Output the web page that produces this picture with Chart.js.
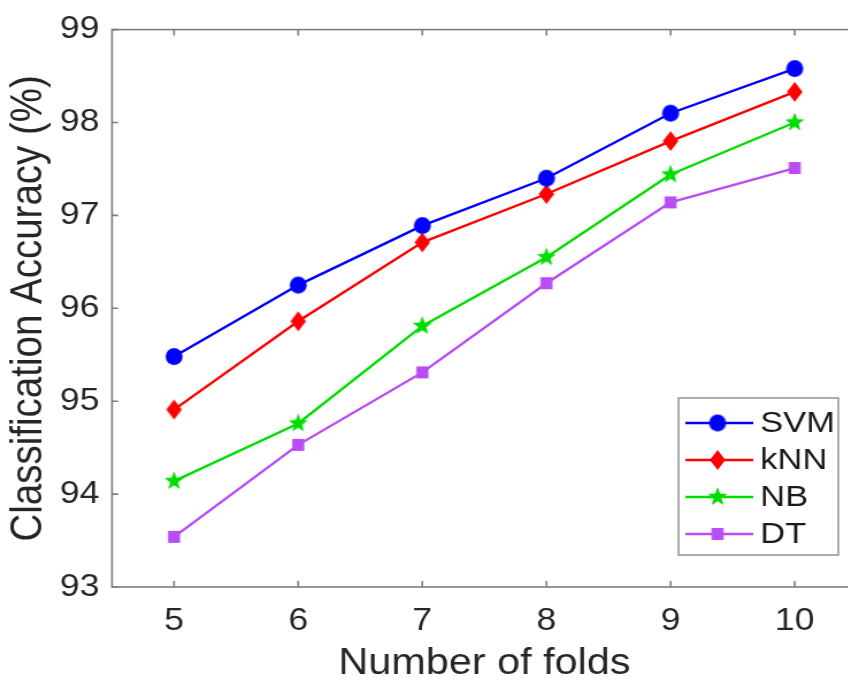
<!DOCTYPE html>
<html>
<head>
<meta charset="utf-8">
<script src="https://cdn.jsdelivr.net/npm/chart.js@4"></script>
<style>
  html, body { margin: 0; padding: 0; background: #fff; width: 848px; height: 682px; overflow: hidden; }
  #wrap { width: 760px; height: 682px; transform: scaleX(1.15); transform-origin: 0 0; }
</style>
</head>
<body>
<div id="wrap"><canvas id="myChart" width="760" height="682"></canvas></div>
<script>
const folds = [5, 6, 7, 8, 9, 10];
const yTicks = [93, 94, 95, 96, 97, 98, 99];
const svm = [95.48, 96.25, 96.89, 97.40, 98.10, 98.58];
const knn = [94.91, 95.86, 96.71, 97.23, 97.80, 98.33];
const nb  = [94.14, 94.76, 95.81, 96.55, 97.44, 98.00];
const dt  = [93.54, 94.53, 95.31, 96.27, 97.14, 97.51];

const SX = 1.15;   // page is stretched sideways like the original figure
const FONT = "'Liberation Sans', Arial, Helvetica, sans-serif";

// marker pictures, squeezed so they look round after the stretch
function marker(shape, color, r) {
  const c = document.createElement('canvas');
  const w = Math.ceil(2 * r / SX) + 2, h = Math.ceil(2 * r) + 2;
  c.width = w; c.height = h;
  const g = c.getContext('2d');
  g.translate(w / 2, h / 2);
  g.scale(1 / SX, 1);
  g.fillStyle = color;
  g.beginPath();
  if (shape === 'circle') {
    g.arc(0, 0, r, 0, Math.PI * 2);
  } else if (shape === 'diamond') {
    g.moveTo(0, -r); g.lineTo(r * 0.78, 0); g.lineTo(0, r); g.lineTo(-r * 0.78, 0);
  } else if (shape === 'star') {
    for (let i = 0; i < 10; i++) {
      const a = -Math.PI / 2 + i * Math.PI / 5;
      const rr = i % 2 ? r * 0.42 : r;
      g.lineTo(Math.cos(a) * rr, Math.sin(a) * rr);
    }
  } else {
    g.rect(-r, -r, 2 * r, 2 * r);
  }
  g.closePath();
  g.fill();
  return c;
}

function series(label, values, color, img) {
  return {
    label: label,
    data: folds.map((f, i) => ({ x: f, y: values[i] })),
    borderColor: color,
    backgroundColor: color,
    borderWidth: 2.4,
    pointStyle: img,
    pointRadius: 8,
    tension: 0
  };
}

const datasets = [
  series('SVM', svm, '#0000ff', marker('circle', '#0000ff', 8.5)),
  series('kNN', knn, '#ff0000', marker('diamond', '#ff0000', 10)),
  series('NB',  nb,  '#00dd00', marker('star', '#00dd00', 10)),
  series('DT',  dt,  '#b94cf2', marker('square', '#b94cf2', 6))
];

// box round the plot with inward ticks
const frame = {
  id: 'frame',
  beforeDatasetsDraw(chart) {
    const { ctx, chartArea: a, scales } = chart;
    ctx.save();
    ctx.strokeStyle = '#7d7d7d';
    ctx.lineWidth = 1.6;
    ctx.strokeRect(a.left, a.top, a.right - a.left, a.bottom - a.top);
    ctx.beginPath();
    folds.forEach(v => {
      const x = scales.x.getPixelForValue(v);
      ctx.moveTo(x, a.bottom); ctx.lineTo(x, a.bottom - 6);
      ctx.moveTo(x, a.top); ctx.lineTo(x, a.top + 6);
    });
    yTicks.forEach(v => {
      const y = scales.y.getPixelForValue(v);
      ctx.moveTo(a.left, y); ctx.lineTo(a.left + 6 / SX, y);
      ctx.moveTo(a.right, y); ctx.lineTo(a.right - 6 / SX, y);
    });
    ctx.stroke();
    ctx.restore();
  }
};

// matlab-style legend: line with marker in the middle
const legendBox = {
  id: 'legendBox',
  afterDraw(chart) {
    const ctx = chart.ctx;
    const x0 = 590, y0 = 398, w = 139, h = 157;
    ctx.save();
    ctx.fillStyle = '#fff';
    ctx.fillRect(x0, y0, w, h);
    ctx.strokeStyle = '#8a8a8a';
    ctx.lineWidth = 1.4;
    ctx.strokeRect(x0, y0, w, h);
    ctx.font = '30px ' + FONT;
    ctx.textBaseline = 'middle';
    chart.data.datasets.forEach((ds, i) => {
      const y = 423 + i * 37;
      ctx.strokeStyle = ds.borderColor;
      ctx.lineWidth = 2.4;
      ctx.beginPath();
      ctx.moveTo(596, y); ctx.lineTo(655, y);
      ctx.stroke();
      const img = ds.pointStyle;
      ctx.drawImage(img, 624 - img.width / 2, y - img.height / 2);
      ctx.fillStyle = '#1a1a1a';
      ctx.fillText(ds.label, 661, y + 1);
    });
    ctx.restore();
  }
};

new Chart(document.getElementById('myChart'), {
  type: 'line',
  data: { datasets: datasets },
  options: {
    responsive: false,
    animation: false,
    layout: { padding: { left: 0, top: 28, right: 15, bottom: 0 } },
    scales: {
      x: {
        type: 'linear',
        min: 4.5,
        max: 10.5,
        afterBuildTicks: s => { s.ticks = folds.map(v => ({ value: v })); },
        afterFit: s => { s.height = 95; },
        grid: { display: false, drawTicks: false },
        border: { display: false },
        ticks: { padding: 16, color: '#262626', font: { family: FONT, size: 31 } },
        title: {
          display: true,
          text: 'Number of folds',
          color: '#262626',
          font: { family: FONT, size: 36, lineHeight: 1 },
          padding: { top: 0, bottom: 0 }
        }
      },
      y: {
        min: 93,
        max: 99,
        afterBuildTicks: s => { s.ticks = yTicks.map(v => ({ value: v })); },
        afterFit: s => { s.width = 97.4; },
        grid: { display: false, drawTicks: false },
        border: { display: false },
        ticks: { padding: 11, color: '#262626', font: { family: FONT, size: 31 } },
        title: {
          display: true,
          text: 'Classification Accuracy (%)',
          color: '#262626',
          font: { family: FONT, size: 38.5, lineHeight: 1 },
          padding: { top: 6.5, bottom: 0 }
        }
      }
    },
    plugins: {
      legend: { display: false },
      tooltip: { enabled: false }
    }
  },
  plugins: [frame, legendBox]
});
</script>
</body>
</html>
